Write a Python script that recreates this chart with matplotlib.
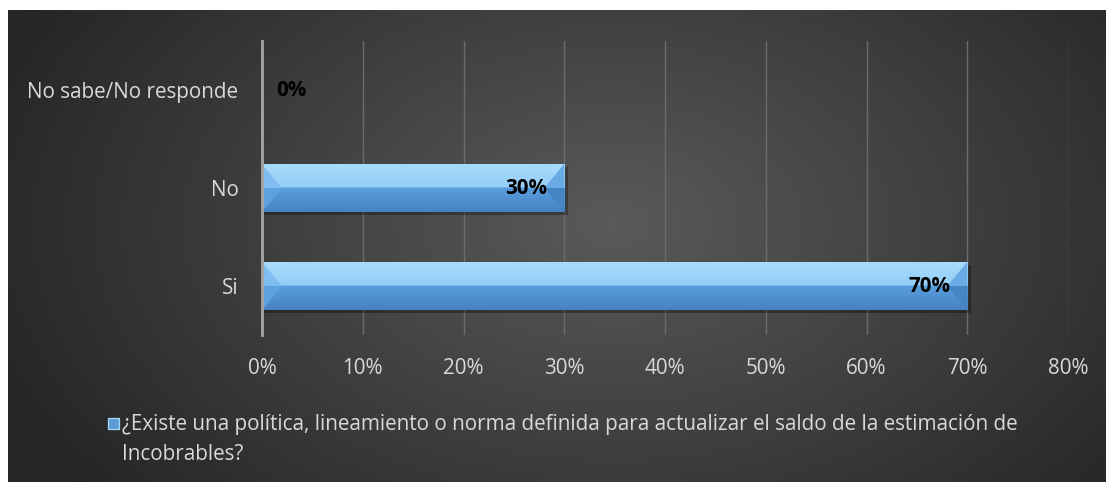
import matplotlib
matplotlib.use("Agg")
import matplotlib.pyplot as plt
import numpy as np
from matplotlib.patches import Rectangle, Polygon

categories = ["Si", "No", "No sabe/No responde"]
values = [70, 30, 0]
labels = ["70%", "30%", "0%"]
xticks = [0, 10, 20, 30, 40, 50, 60, 70, 80]
xticklabels = ["0%", "10%", "20%", "30%", "40%", "50%", "60%", "70%", "80%"]
legend_text = ("¿Existe una política, lineamiento o norma definida para actualizar el saldo de la estimación de\n"
               "Incobrables?")

plt.rcParams['font.family'] = ['Open Sans', 'DejaVu Sans']
FS = 14.9

W, H = 1106, 482
fig = plt.figure(figsize=(W/100, H/100), dpi=100)
fig.patch.set_facecolor("white")

# background radial gradient
bg = fig.add_axes([8/W, 0, 1-8/W, 472/H])
bg.set_axis_off()
ny, nx = 240, 550
yy, xx = np.mgrid[0:ny, 0:nx]
cx, cy = nx*0.55, ny*0.45
r = np.sqrt(((xx-cx)/(nx*0.6))**2 + ((yy-cy)/(ny*0.9))**2)
r = np.clip(r, 0, 1)
inner = np.array([0x5a, 0x5a, 0x5a])/255
outer = np.array([0x26, 0x26, 0x26])/255
img = inner[None, None, :]*(1-r[..., None]) + outer[None, None, :]*r[..., None]
bg.imshow(img, aspect='auto', extent=[0, 1, 0, 1], origin='upper')
bg.set_xlim(0, 1); bg.set_ylim(0, 1)

ax = fig.add_axes([262/W, 1-335/H, 806/W, 294/H])
ax.set_facecolor("none")
ax.set_xlim(0, 80)
ax.set_ylim(-0.5, 2.5)
ypos = np.arange(len(categories))
bh = 0.49

ax.set_xticks(xticks)
ax.set_xticklabels(xticklabels, color="#d9d9d9", fontsize=FS)
ax.set_yticks(ypos)
ax.set_yticklabels(categories, color="#d9d9d9", fontsize=FS)
ax.tick_params(length=0, pad=16.5, axis='x')
ax.tick_params(length=0, pad=17, axis='y')
for s in ["top", "right", "bottom"]:
    ax.spines[s].set_visible(False)
ax.spines["left"].set_color("#a6a6a6")
ax.spines["left"].set_linewidth(2)
ax.spines["left"].set_zorder(5)
ax.grid(axis='x', color="#6b6b6b", linewidth=1)
ax.set_axisbelow(True)

bars = ax.barh(ypos, values, height=bh, color="#5b9bd5", zorder=2)
top_a = np.array([0xa8, 0xdc, 0xfd]) / 255
top_b = np.array([0x95, 0xce, 0xf7]) / 255
bot_a = np.array([0x5a, 0x9e, 0xde]) / 255
bot_b = np.array([0x46, 0x82, 0xc2]) / 255
n = 100
g = np.zeros((n, 3))
f = np.linspace(0, 1, n // 2)
g[:n//2] = top_a[None, :] * (1 - f[:, None]) + top_b[None, :] * f[:, None]
g[n//2:] = bot_a[None, :] * (1 - f[:, None]) + bot_b[None, :] * f[:, None]
bw = 20 * 80 / 806  # bevel width in data units
for b, v in zip(bars, values):
    if v <= 0:
        continue
    x0 = b.get_x(); y0 = b.get_y(); h = b.get_height(); x1 = x0 + b.get_width()
    ax.add_patch(Rectangle((x0, y0 - 0.035), v + 0.35, h, color="black", alpha=0.3, zorder=1.5, lw=0))
    im = ax.imshow(g[:, None, :], aspect='auto', extent=[x0, x1, y0, y0 + h], origin='upper',
                   zorder=3, interpolation='bilinear')
    im.set_clip_path(b)
    ym = y0 + h/2
    ax.add_patch(Polygon([(x0, y0 + h), (x0 + bw, ym), (x0, ym)], closed=True, color="#7fbdf0", zorder=4, lw=0))
    ax.add_patch(Polygon([(x0, y0), (x0 + bw, ym), (x0, ym)], closed=True, color="#5ea2e2", zorder=4, lw=0))
    ax.add_patch(Polygon([(x1, y0 + h), (x1 - bw, ym), (x1, ym)], closed=True, color="#6aaae6", zorder=4, lw=0))
    ax.add_patch(Polygon([(x1, y0), (x1 - bw, ym), (x1, ym)], closed=True, color="#4784c4", zorder=4, lw=0))
ax.set_xlim(0, 80)
ax.set_ylim(-0.5, 2.5)

for y, v, lab in zip(ypos, values, labels):
    if v > 0:
        ax.annotate(lab, (v, y), xytext=(-17, 0), textcoords="offset pixels",
                    ha="right", va="center", fontsize=FS, fontweight="bold", color="black", zorder=6)
    else:
        ax.annotate(lab, (v, y), xytext=(14, 0), textcoords="offset pixels",
                    ha="left", va="center", fontsize=FS, fontweight="bold", color="black", zorder=6)

# legend
fig.patches.append(Rectangle((108/W, 1-429/H), 11/W, 11/H, transform=fig.transFigure,
                             facecolor="#5b9bd5", edgecolor="#a8dcfd", lw=0.9, zorder=10))
fig.text(122/W, 1-414/H, legend_text, color="#d9d9d9", fontsize=FS, va="top", ha="left",
         linespacing=1.55)

fig.savefig("out.png", dpi=100, facecolor="white")
